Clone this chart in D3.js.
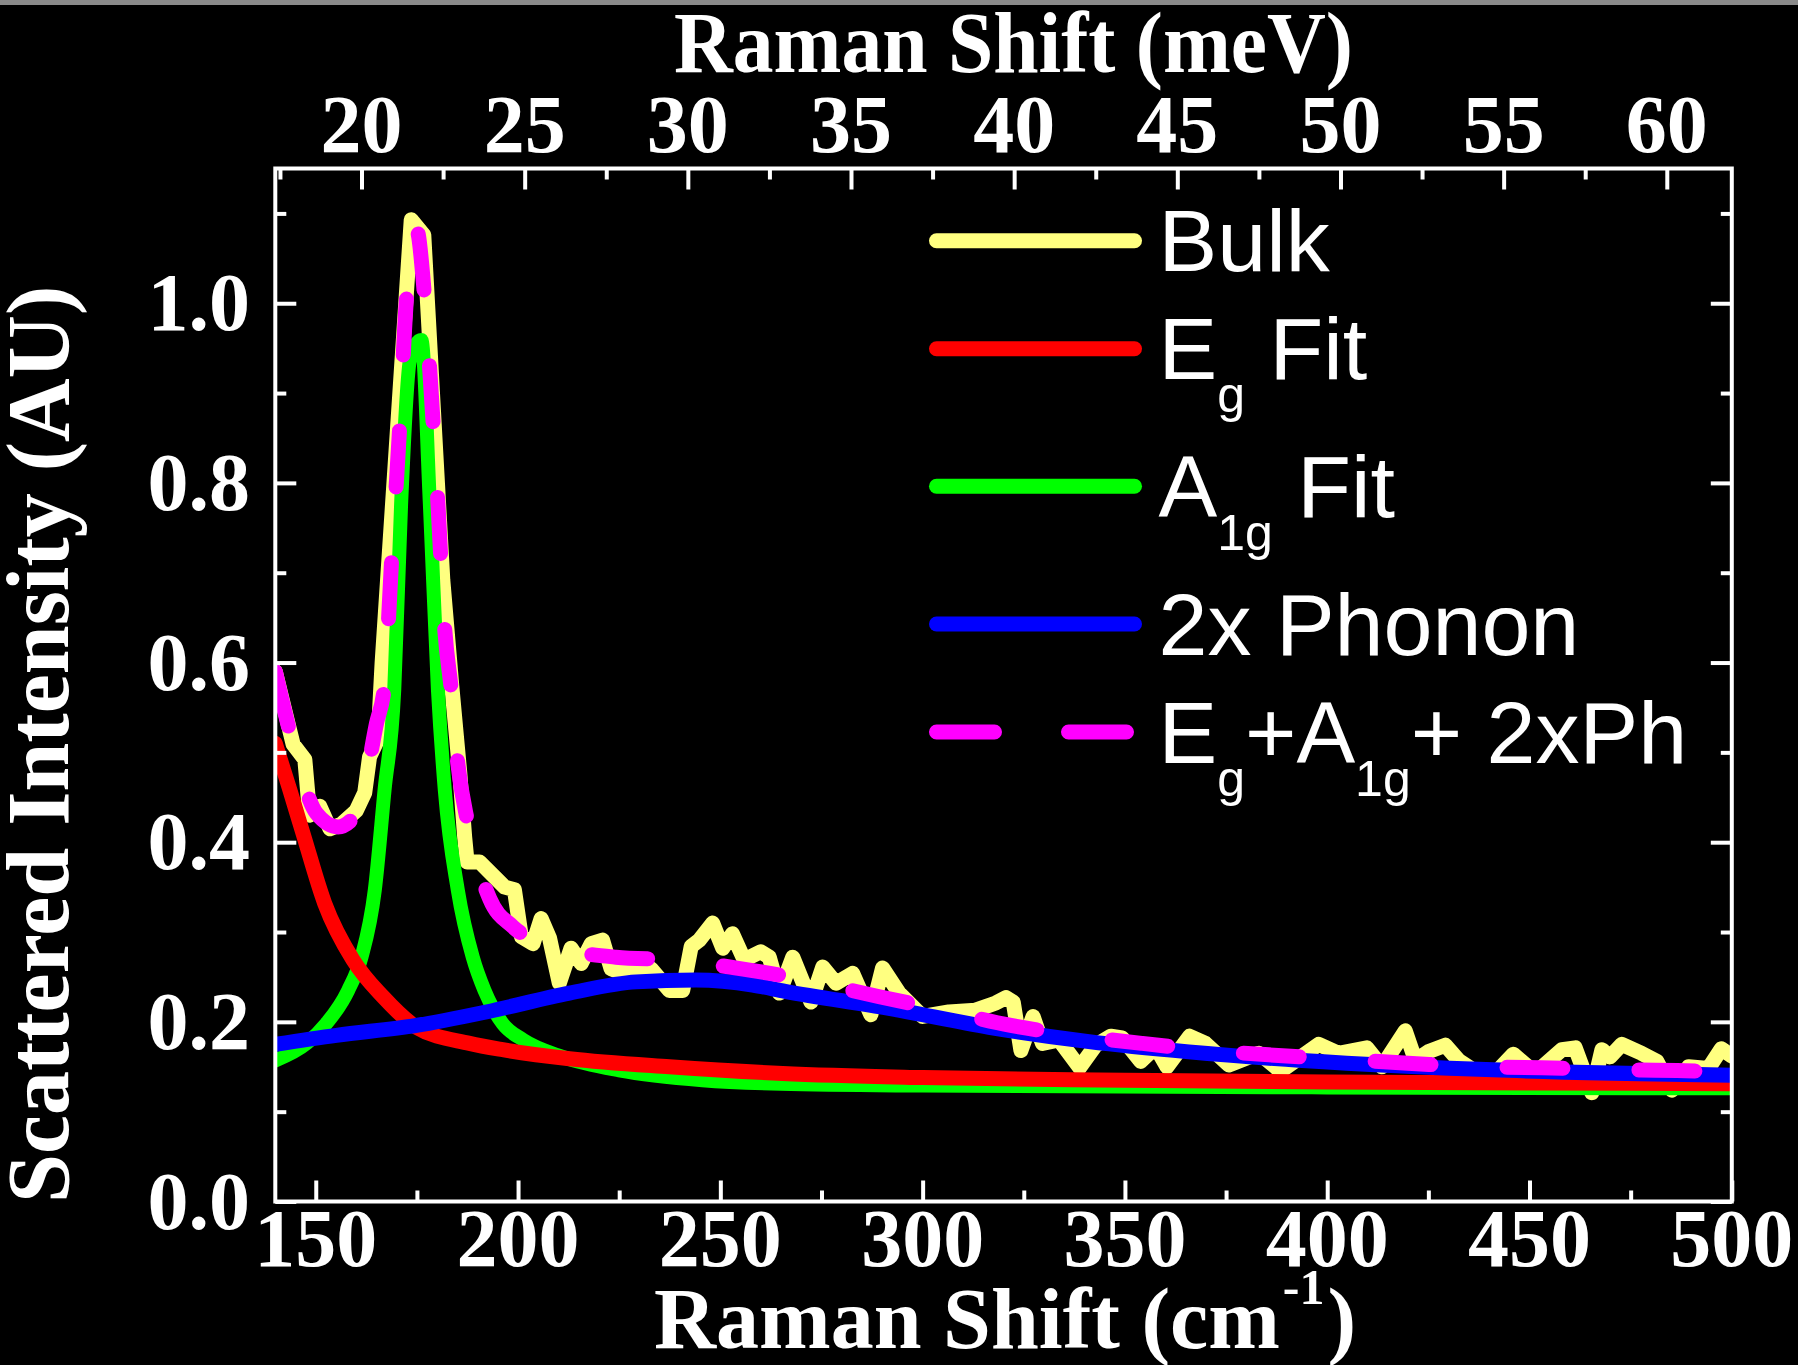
<!DOCTYPE html>
<html>
<head>
<meta charset="utf-8">
<script src="https://cdn.jsdelivr.net/npm/d3@7"></script>
<style>
  html, body { margin: 0; padding: 0; background: #000; }
  svg { display: block; }
  text { white-space: pre; }
</style>
</head>
<body>
<svg id="chart" width="1798" height="1365"></svg>
<script>
// ---------------- DATA ----------------
const bulk = [[140,0.590],[144.4,0.509],[147.3,0.492],[148.5,0.430],[151.0,0.440],[153.5,0.415],[156.3,0.420],[160.0,0.435],[162.1,0.455],[163.3,0.495],[165.4,0.515],[166.4,0.600],[173.6,1.093],[176.7,1.076],[181.4,0.692],[183.7,0.570],[185.6,0.477],[186.8,0.406],[187.4,0.378],[190.5,0.378],[196.7,0.350],[199.1,0.347],[200.8,0.295],[203.7,0.287],[205.7,0.315],[207.8,0.293],[210.2,0.243],[213.1,0.282],[215.6,0.265],[218.1,0.287],[220.9,0.291],[223.0,0.259],[225.9,0.254],[229.6,0.259],[232.9,0.259],[237.4,0.235],[240.7,0.235],[242.8,0.284],[244.8,0.291],[248.1,0.310],[250.6,0.282],[253.0,0.298],[255.9,0.269],[260.0,0.278],[262.1,0.272],[264.6,0.232],[267.9,0.272],[272.4,0.222],[275.3,0.261],[278.6,0.243],[282.7,0.254],[287.2,0.208],[290.1,0.260],[294.2,0.232],[300.0,0.206],[306.5,0.211],[313.1,0.213],[318.1,0.221],[320.6,0.227],[322.4,0.222],[324.3,0.168],[327.3,0.206],[329.6,0.176],[333.7,0.180],[338.8,0.149],[342.8,0.174],[346.5,0.184],[349.3,0.182],[353.9,0.156],[357.6,0.172],[360.4,0.150],[366.0,0.184],[369.9,0.176],[375.7,0.152],[383.1,0.165],[388.5,0.145],[397.9,0.175],[402.8,0.165],[409.8,0.171],[413.5,0.150],[419.3,0.190],[421.8,0.157],[425.1,0.167],[429.2,0.174],[432.5,0.157],[439.9,0.135],[446.0,0.164],[451.4,0.143],[458.0,0.169],[461.3,0.171],[465.4,0.121],[467.9,0.169],[469.9,0.161],[472.8,0.175],[477.7,0.165],[481.5,0.156],[485.2,0.124],[489.3,0.150],[494.2,0.148],[497.4,0.170],[500,0.162]];

const egFit = [[140,0.510],[143.6,0.458],[146.9,0.409],[152.2,0.332],[159.2,0.269],[166.6,0.228],[174.9,0.194],[188,0.176],[196.2,0.169],[212.7,0.159],[237.4,0.150],[265.4,0.1425],[300,0.138],[350,0.135],[400,0.133],[450,0.132],[500,0.131]];

const a1gFit = [[140,0.157],[147.7,0.176],[152.6,0.198],[158.0,0.235],[161.3,0.272],[164.6,0.347],[167.0,0.458],[169.4,0.5695],[171.1,0.777],[173.3,0.937],[176.1,0.959],[178.2,0.777],[180.2,0.5695],[181.9,0.458],[185.1,0.347],[188.8,0.272],[191.7,0.235],[196.2,0.198],[201.2,0.180],[211,0.161],[225,0.146],[245.6,0.135],[265,0.131],[300,0.129],[400,0.127],[500,0.126]];

const phonon2x = [[140,0.175],[155.1,0.185],[174.9,0.196],[192.1,0.211],[212.7,0.232],[229.2,0.2445],[244,0.2465],[258,0.241],[266,0.234],[291.7,0.215],[316.4,0.194],[341.1,0.178],[365.8,0.1666],[393.8,0.157],[444.8,0.146],[500,0.1406]];

const sumFit = [[140,0.590],[144,0.516],[150.2,0.432],[155.5,0.417],[158.4,0.423],[161.3,0.449],[165,0.532],[167,0.575],[168.7,0.7105],[170.7,0.859],[172.4,1.004],[174.9,1.082],[176.9,1.007],[178.6,0.896],[180.2,0.777],[181.9,0.636],[183.5,0.5695],[185.1,0.488],[187.6,0.421],[193,0.337],[198.7,0.306],[206.1,0.287],[224.2,0.272],[239.1,0.2687],[257.2,0.2576],[266,0.251],[289.3,0.228],[304.9,0.213],[321.8,0.196],[337.8,0.185],[354.3,0.176],[371.2,0.168],[390,0.162],[420,0.154],[436,0.150],[453,0.149],[468.7,0.147],[488.6,0.1455],[500,0.1436]];

const xMajor = [150, 200, 250, 300, 350, 400, 450, 500];
const xMinor = [175, 225, 275, 325, 375, 425, 475];
const meVMajor = [20, 25, 30, 35, 40, 45, 50, 55, 60];
const meVMinor = [17.5, 22.5, 27.5, 32.5, 37.5, 42.5, 47.5, 52.5, 57.5];
const yMajor = [0.0, 0.2, 0.4, 0.6, 0.8, 1.0];
const yMinor = [0.1, 0.3, 0.5, 0.7, 0.9, 1.1];

const seriesColors = { bulk: "#ffff80", eg: "#ff0000", a1g: "#00ff00", ph: "#0000ff", sum: "#ff00ff" };
const legendRows = [
  { key: "bulk", parts: [["Bulk", false]] },
  { key: "eg",   parts: [["E", false], ["g", true], [" Fit", false]] },
  { key: "a1g",  parts: [["A", false], ["1g", true], [" Fit", false]] },
  { key: "ph",   parts: [["2x Phonon", false]] },
  { key: "sum",  parts: [["E", false], ["g", true], ["+A", false], ["1g", true], ["+ 2xPh", false]] }
];
const CM_PER_MEV = 8.06554;

// ---------------- LAYOUT ----------------
const svg = d3.select("#chart");
const L = 275.3, R = 1731.8, T = 168.5, B = 1201.5;
const x = d3.scaleLinear().domain([140, 500]).range([L, R]);
const xMeV = d3.scaleLinear().domain([140 / CM_PER_MEV, 500 / CM_PER_MEV]).range([L, R]);
const y = d3.scaleLinear().domain([0, 1.15]).range([B, T]);

svg.append("rect").attr("width", 1798).attr("height", 1365).attr("fill", "#000");
svg.append("rect").attr("width", 1798).attr("height", 5).attr("fill", "#8a8a8a");

const serif = "'Liberation Serif','Times New Roman',serif";
const sans = "'Liberation Sans',Arial,sans-serif";

function stext(px, py, str, size, anchor, sy, family, weight) {
  return svg.append("text")
    .attr("transform", `translate(${px},${py}) scale(1,${sy})`)
    .attr("text-anchor", anchor)
    .attr("font-family", family || serif)
    .attr("font-weight", weight || "bold")
    .attr("font-size", size)
    .attr("fill", "#fff")
    .text(str);
}

// ---------------- CURVES ----------------
svg.append("clipPath").attr("id", "plotclip")
  .append("rect").attr("x", L).attr("y", T - 10).attr("width", R - L).attr("height", B - T + 10);
const plot = svg.append("g").attr("clip-path", "url(#plotclip)");

const lineLin = d3.line().x(d => x(d[0])).y(d => y(d[1])).curve(d3.curveLinear);
const lineSmooth = d3.line().x(d => x(d[0])).y(d => y(d[1])).curve(d3.curveMonotoneX);

function drawSeries(data, gen, color, w, dash) {
  const p = plot.append("path").datum(data)
    .attr("d", gen).attr("fill", "none").attr("stroke", color)
    .attr("stroke-width", w).attr("stroke-linejoin", "round").attr("stroke-linecap", "round");
  if (dash) p.attr("stroke-dasharray", dash);
}
drawSeries(bulk, lineLin, seriesColors.bulk, 15);
drawSeries(a1gFit, lineSmooth, seriesColors.a1g, 14);
drawSeries(egFit, lineSmooth, seriesColors.eg, 15);
drawSeries(phonon2x, lineSmooth, seriesColors.ph, 15);
drawSeries(sumFit, lineSmooth, seriesColors.sum, 15, "56,76");

// ---------------- AXES ----------------
function styleAxis(g) {
  g.select(".domain").remove();
  g.selectAll("line").attr("stroke", "#fff").attr("stroke-width", 4);
  g.selectAll("text").remove();
}
const MAJ = 21, MIN = 11;
svg.append("g").attr("transform", `translate(0,${B})`)
  .call(d3.axisBottom(x).tickValues(xMajor).tickSize(-MAJ).tickFormat("")).call(styleAxis);
svg.append("g").attr("transform", `translate(0,${B})`)
  .call(d3.axisBottom(x).tickValues(xMinor).tickSize(-MIN).tickFormat("")).call(styleAxis);
svg.append("g").attr("transform", `translate(0,${T})`)
  .call(d3.axisTop(xMeV).tickValues(meVMajor).tickSize(-MAJ).tickFormat("")).call(styleAxis);
svg.append("g").attr("transform", `translate(0,${T})`)
  .call(d3.axisTop(xMeV).tickValues(meVMinor).tickSize(-MIN).tickFormat("")).call(styleAxis);
svg.append("g").attr("transform", `translate(${L},0)`)
  .call(d3.axisLeft(y).tickValues(yMajor).tickSize(-MAJ).tickFormat("")).call(styleAxis);
svg.append("g").attr("transform", `translate(${L},0)`)
  .call(d3.axisLeft(y).tickValues(yMinor).tickSize(-MIN).tickFormat("")).call(styleAxis);
svg.append("g").attr("transform", `translate(${R},0)`)
  .call(d3.axisRight(y).tickValues(yMajor).tickSize(-MAJ).tickFormat("")).call(styleAxis);
svg.append("g").attr("transform", `translate(${R},0)`)
  .call(d3.axisRight(y).tickValues(yMinor).tickSize(-MIN).tickFormat("")).call(styleAxis);

svg.append("rect").attr("x", L).attr("y", T).attr("width", R - L).attr("height", B - T)
  .attr("fill", "none").attr("stroke", "#fff").attr("stroke-width", 4);

// tick labels
const TS = 82, TSY = 1.01;
xMajor.forEach(v => stext(x(v), 1266, String(v), TS, "middle", TSY));
meVMajor.forEach(v => stext(xMeV(v), 152, String(v), TS, "middle", TSY));
yMajor.forEach(v => stext(250, y(v) + 27, d3.format(".1f")(v), TS, "end", TSY));

// axis titles
stext(674, 72, "Raman Shift (meV)", 81.5, "start", 1.06);
const bt = svg.append("text").attr("transform", "translate(654,1348)")
  .attr("font-family", serif).attr("font-weight", "bold").attr("font-size", 86).attr("fill", "#fff");
bt.append("tspan").text("Raman Shift (cm");
bt.append("tspan").attr("font-size", 50).attr("dy", -44).attr("dx", 3).text("-1");
bt.append("tspan").attr("dy", 44).attr("dx", 3).text(")");

svg.append("text").attr("transform", "translate(68,1203) rotate(-90)")
  .attr("font-family", serif).attr("font-weight", "bold").attr("font-size", 88).attr("fill", "#fff")
  .text("Scattered Intensity (AU)");

// ---------------- LEGEND ----------------
const legendY = [240.7, 348.7, 486.3, 624, 732];
const lx0 = 936.5, lx1 = 1134.5, textX = 1158.5;
legendRows.forEach((row, i) => {
  const ly = legendY[i];
  const ln = svg.append("line").attr("x1", lx0).attr("x2", lx1).attr("y1", ly).attr("y2", ly)
    .attr("stroke", seriesColors[row.key]).attr("stroke-width", 15).attr("stroke-linecap", "round");
  if (row.key === "sum") ln.attr("x2", 1126.5).attr("stroke-dasharray", "58,74");
  const t = svg.append("text").attr("x", textX).attr("y", ly + 30.5)
    .attr("font-family", sans).attr("font-size", 88).attr("fill", "#fff");
  let down = false;
  row.parts.forEach(([s, sub]) => {
    const ts = t.append("tspan").text(s);
    if (sub && !down) { ts.attr("font-size", 50).attr("dy", 33); down = true; }
    else if (sub) { ts.attr("font-size", 50); }
    else if (down) { ts.attr("dy", -33); down = false; }
  });
});
</script>
</body>
</html>
